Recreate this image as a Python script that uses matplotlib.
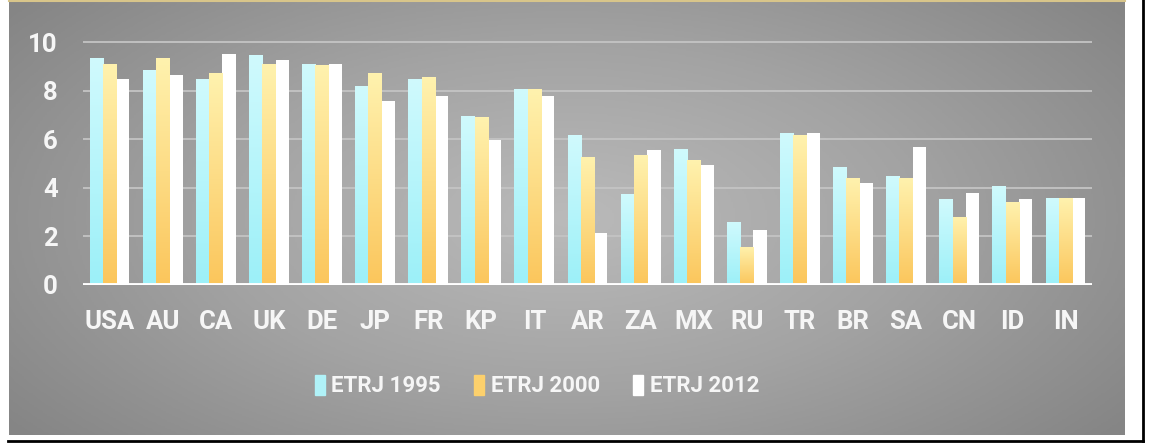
import numpy as np
import matplotlib.pyplot as plt
from matplotlib.colors import LinearSegmentedColormap
from matplotlib.patches import Rectangle
from matplotlib.lines import Line2D

plt.rcParams['font.family'] = ['Roboto', 'DejaVu Sans']

countries = ["USA", "AU", "CA", "UK", "DE", "JP", "FR", "KP", "IT", "AR",
             "ZA", "MX", "RU", "TR", "BR", "SA", "CN", "ID", "IN"]
etrj_1995 = [9.33, 8.85, 8.49, 9.47, 9.12, 8.20, 8.49, 6.95, 8.07, 6.17,
             3.74, 5.61, 2.60, 6.27, 4.87, 4.50, 3.53, 4.09, 3.59]
etrj_2000 = [9.12, 9.33, 8.71, 9.12, 9.05, 8.71, 8.55, 6.90, 8.07, 5.28,
             5.35, 5.14, 1.58, 6.17, 4.42, 4.42, 2.81, 3.43, 3.59]
etrj_2012 = [8.49, 8.64, 9.53, 9.26, 9.12, 7.57, 7.78, 5.97, 7.78, 2.13,
             5.56, 4.94, 2.26, 6.27, 4.21, 5.69, 3.80, 3.53, 3.59]
series_names = ["ETRJ 1995", "ETRJ 2000", "ETRJ 2012"]
yticks = [0, 2, 4, 6, 8, 10]

W, H = 1152, 443
fig = plt.figure(figsize=(W / 100, H / 100), dpi=100)
fig.patch.set_facecolor("white")

# gray radial gradient panel behind the chart
bg = fig.add_axes([9 / W, 8 / H, (1125 - 9) / W, (435 - 2) / H])
yy, xx = np.mgrid[-1:1:300j, -1:1:600j]
r = np.sqrt((xx * 0.95) ** 2 + (yy * 0.75) ** 2)
bg_cmap = LinearSegmentedColormap.from_list("bg", ["#bababa", "#a3a3a3", "#858585"])
bg.imshow(r, cmap=bg_cmap, aspect="auto", extent=[0, 1, 0, 1], vmin=0, vmax=1.2)
bg.axis("off")

# thin frame lines of the screenshot
fig.add_artist(Line2D([8 / W, 1143 / W], [1 - 441 / H] * 2, color="black", lw=2))
fig.add_artist(Line2D([1143 / W] * 2, [1 - 441 / H, 1], color="black", lw=2))
fig.add_artist(Line2D([9 / W, 1125 / W], [1 - 1 / H] * 2, color="#d8c58a", lw=1.5))

ax = fig.add_axes([83 / W, (H - 285) / H, (1092 - 83) / W, (285 - 30) / H])
ax.set_facecolor("none")

cyan_cmap = LinearSegmentedColormap.from_list("c", ["#9cf0f8", "#d0fafd"])
gold_cmap = LinearSegmentedColormap.from_list("g", ["#fbc65c", "#fff2ae"])
grad = np.linspace(0, 1, 100).reshape(-1, 1)[::-1]

x = np.arange(len(countries))
w = 0.25
data = [etrj_1995, etrj_2000, etrj_2012]
cmaps = [cyan_cmap, gold_cmap, None]
colors = ["#b8f4fa", "#fdd97c", "white"]
for i, (vals, cm) in enumerate(zip(data, cmaps)):
    bars = ax.bar(x + (i - 1) * w, vals, w, color=colors[i], zorder=3, linewidth=0)
    if cm is not None:
        for b in bars:
            im = ax.imshow(grad, cmap=cm, aspect="auto", zorder=3.5,
                           extent=[b.get_x(), b.get_x() + b.get_width(), 0, b.get_height()])
            im.set_clip_path(b)

ax.set_xlim(-0.5, len(countries) - 0.5)
ax.set_ylim(0, 10.5)

for t in yticks[1:]:
    ax.axhline(t, color="#c4c4c4", lw=1.3, zorder=1)
ax.axhline(0, color="white", lw=3.5, zorder=4)

for s in ax.spines.values():
    s.set_visible(False)
ax.set_yticks(yticks)
ax.set_xticks(x)
ax.set_xticklabels(countries)
ax.tick_params(length=0, labelsize=18.5, labelcolor="#f6f6f6")
ax.tick_params(axis="y", pad=18)
ax.tick_params(axis="x", pad=18)
for lab in ax.get_xticklabels() + ax.get_yticklabels():
    lab.set_fontweight("bold")

handles = [Rectangle((0, 0), 1, 1, color=c) for c in ["#b0f2f8", "#fcd06c", "white"]]
leg = fig.legend(handles, series_names, loc="center", bbox_to_anchor=(537 / W, 1 - 386 / H),
                 ncol=3, frameon=False, handlelength=0.45, handleheight=1.0,
                 handletextpad=0.3, columnspacing=1.5,
                 prop={"size": 16, "weight": "bold"})
for t in leg.get_texts():
    t.set_color("#f6f6f6")

fig.savefig("out.png", dpi=100)
